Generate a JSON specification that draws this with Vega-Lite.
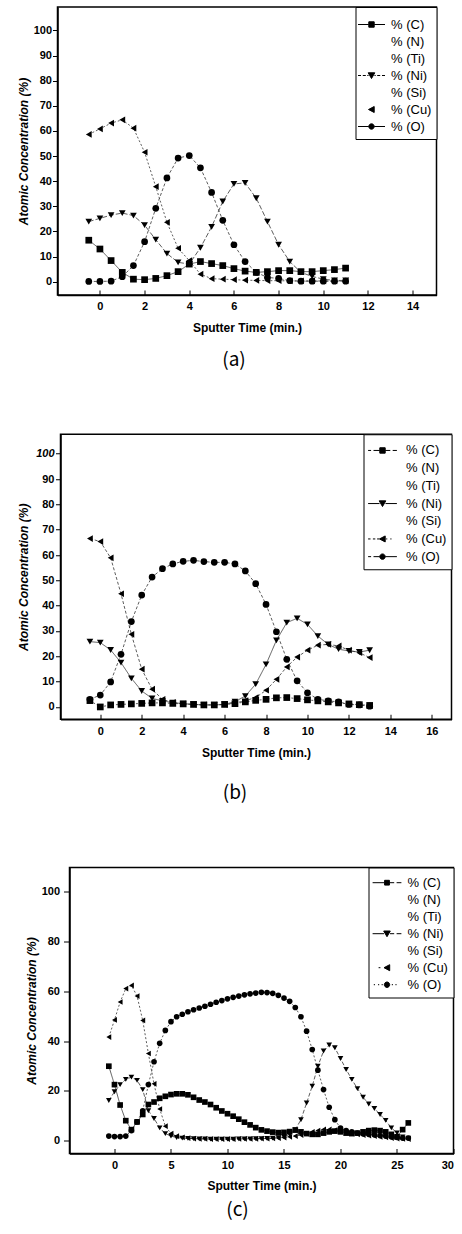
{
"$schema": "https://vega.github.io/schema/vega-lite/v6.json",
"padding": {"left": 15.5, "top": 5, "right": 0, "bottom": 0},
"config": {
  "font": "Liberation Sans",
  "view": {"stroke": "black", "strokeWidth": 1.5},
  "axis": {"domainColor": "black", "domainWidth": 1.5, "tickColor": "black", "tickWidth": 1, "labelColor": "black", "labelFont": "Liberation Sans", "labelFontSize": 11, "labelFontWeight": "bold", "titleColor": "black", "titleFont": "Liberation Sans", "titleFontSize": 12, "titleFontWeight": "bold", "grid": false},
  "axisY": {"titleFontStyle": "italic"},
  "legend": {"orient": "top-right", "offset": 0, "fillColor": "white", "strokeColor": "black", "padding": 5, "cornerRadius": 0, "symbolSize": 144, "labelFont": "Liberation Sans", "labelFontSize": 13, "labelColor": "black", "rowPadding": 3, "labelLimit": 200, "symbolStrokeWidth": 1, "titleFontSize": 1, "titleColor": "white"},
  "title": {"font": "Noto Sans CJK KR", "fontSize": 19, "fontWeight": "normal", "color": "black", "anchor": "middle"}
},
"datasets": {
"a": [
{"t":-0.5,"s":"C","v":16.5},{"t":0,"s":"C","v":13},{"t":0.5,"s":"C","v":8.4},{"t":1,"s":"C","v":3.7},{"t":1.5,"s":"C","v":1},{"t":2,"s":"C","v":0.8},{"t":2.5,"s":"C","v":1.3},{"t":3,"s":"C","v":2.4},{"t":3.5,"s":"C","v":4},{"t":4,"s":"C","v":7},{"t":4.5,"s":"C","v":8},{"t":5,"s":"C","v":7.2},{"t":5.5,"s":"C","v":6.4},{"t":6,"s":"C","v":5.2},{"t":6.5,"s":"C","v":4.2},{"t":7,"s":"C","v":3.7},{"t":7.5,"s":"C","v":4},{"t":8,"s":"C","v":4.4},{"t":8.5,"s":"C","v":4.4},{"t":9,"s":"C","v":4},{"t":9.5,"s":"C","v":4},{"t":10,"s":"C","v":4.4},{"t":10.5,"s":"C","v":4.8},{"t":11,"s":"C","v":5.4},
{"t":-0.5,"s":"Ni","v":23.9},{"t":0,"s":"Ni","v":25.2},{"t":0.5,"s":"Ni","v":26.5},{"t":1,"s":"Ni","v":27.3},{"t":1.5,"s":"Ni","v":26.3},{"t":2,"s":"Ni","v":22.5},{"t":2.5,"s":"Ni","v":16.7},{"t":3,"s":"Ni","v":11.2},{"t":3.5,"s":"Ni","v":7.7},{"t":4,"s":"Ni","v":7},{"t":4.5,"s":"Ni","v":13.5},{"t":5,"s":"Ni","v":21.8},{"t":5.5,"s":"Ni","v":31.9},{"t":6,"s":"Ni","v":38.9},{"t":6.5,"s":"Ni","v":39.3},{"t":7,"s":"Ni","v":33.2},{"t":7.5,"s":"Ni","v":23.9},{"t":8,"s":"Ni","v":14.7},{"t":8.5,"s":"Ni","v":8},{"t":9,"s":"Ni","v":3.7},{"t":9.5,"s":"Ni","v":2.1},{"t":10,"s":"Ni","v":1},{"t":10.5,"s":"Ni","v":0.5},{"t":11,"s":"Ni","v":0.5},
{"t":-0.5,"s":"Cu","v":58.6},{"t":0,"s":"Cu","v":60.8},{"t":0.5,"s":"Cu","v":63.1},{"t":1,"s":"Cu","v":64.4},{"t":1.5,"s":"Cu","v":61.1},{"t":2,"s":"Cu","v":51.5},{"t":2.5,"s":"Cu","v":37.8},{"t":3,"s":"Cu","v":23.6},{"t":3.5,"s":"Cu","v":13.3},{"t":4,"s":"Cu","v":8.4},{"t":4.5,"s":"Cu","v":3},{"t":5,"s":"Cu","v":1.2},{"t":5.5,"s":"Cu","v":1},{"t":6,"s":"Cu","v":0.8},{"t":6.5,"s":"Cu","v":0.6},{"t":7,"s":"Cu","v":0.5},{"t":7.5,"s":"Cu","v":0.4},{"t":8,"s":"Cu","v":0.4},{"t":8.5,"s":"Cu","v":0.3},{"t":9,"s":"Cu","v":0.3},{"t":9.5,"s":"Cu","v":0.3},{"t":10,"s":"Cu","v":0.3},{"t":10.5,"s":"Cu","v":0.3},{"t":11,"s":"Cu","v":0.3},
{"t":-0.5,"s":"O","v":0.1},{"t":0,"s":"O","v":0.1},{"t":0.5,"s":"O","v":0.2},{"t":1,"s":"O","v":2},{"t":1.5,"s":"O","v":6.4},{"t":2,"s":"O","v":15.9},{"t":2.5,"s":"O","v":29.2},{"t":3,"s":"O","v":41.3},{"t":3.5,"s":"O","v":49.2},{"t":4,"s":"O","v":50.2},{"t":4.5,"s":"O","v":45.3},{"t":5,"s":"O","v":35.5},{"t":5.5,"s":"O","v":24.4},{"t":6,"s":"O","v":14.7},{"t":6.5,"s":"O","v":8},{"t":7,"s":"O","v":3.7},{"t":7.5,"s":"O","v":1.7},{"t":8,"s":"O","v":1.3},{"t":8.5,"s":"O","v":0.4},{"t":9,"s":"O","v":0.2},{"t":9.5,"s":"O","v":0.2},{"t":10,"s":"O","v":0.2},{"t":10.5,"s":"O","v":0.2},{"t":11,"s":"O","v":0.2}
],
"b": [
{"t":-0.5,"s":"C","v":2.5},{"t":0,"s":"C","v":0},{"t":0.5,"s":"C","v":0.8},{"t":1,"s":"C","v":1},{"t":1.5,"s":"C","v":1.2},{"t":2,"s":"C","v":1.4},{"t":2.5,"s":"C","v":1.6},{"t":3,"s":"C","v":1.6},{"t":3.5,"s":"C","v":1.4},{"t":4,"s":"C","v":1.2},{"t":4.5,"s":"C","v":1},{"t":5,"s":"C","v":0.8},{"t":5.5,"s":"C","v":0.8},{"t":6,"s":"C","v":1},{"t":6.5,"s":"C","v":1.3},{"t":7,"s":"C","v":2},{"t":7.5,"s":"C","v":2.6},{"t":8,"s":"C","v":3},{"t":8.5,"s":"C","v":3.6},{"t":9,"s":"C","v":3.7},{"t":9.5,"s":"C","v":3.3},{"t":10,"s":"C","v":2.8},{"t":10.5,"s":"C","v":2.4},{"t":11,"s":"C","v":2},{"t":11.5,"s":"C","v":1.6},{"t":12,"s":"C","v":1.2},{"t":12.5,"s":"C","v":0.9},{"t":13,"s":"C","v":0.6},
{"t":-0.5,"s":"Ni","v":25.8},{"t":0,"s":"Ni","v":25.4},{"t":0.5,"s":"Ni","v":22.5},{"t":1,"s":"Ni","v":17.5},{"t":1.5,"s":"Ni","v":11.3},{"t":2,"s":"Ni","v":6.3},{"t":2.5,"s":"Ni","v":3.4},{"t":3,"s":"Ni","v":2.4},{"t":3.5,"s":"Ni","v":1.7},{"t":4,"s":"Ni","v":1.3},{"t":4.5,"s":"Ni","v":1},{"t":5,"s":"Ni","v":0.8},{"t":5.5,"s":"Ni","v":0.8},{"t":6,"s":"Ni","v":1},{"t":6.5,"s":"Ni","v":2.1},{"t":7,"s":"Ni","v":4.3},{"t":7.5,"s":"Ni","v":9},{"t":8,"s":"Ni","v":16.8},{"t":8.5,"s":"Ni","v":26.3},{"t":9,"s":"Ni","v":33.3},{"t":9.5,"s":"Ni","v":35},{"t":10,"s":"Ni","v":32.6},{"t":10.5,"s":"Ni","v":28},{"t":11,"s":"Ni","v":24.7},{"t":11.5,"s":"Ni","v":22.8},{"t":12,"s":"Ni","v":22.1},{"t":12.5,"s":"Ni","v":21.7},{"t":13,"s":"Ni","v":22.4},
{"t":-0.5,"s":"Cu","v":66.5},{"t":0,"s":"Cu","v":65.3},{"t":0.5,"s":"Cu","v":58.9},{"t":1,"s":"Cu","v":44.7},{"t":1.5,"s":"Cu","v":28.7},{"t":2,"s":"Cu","v":14.9},{"t":2.5,"s":"Cu","v":7},{"t":3,"s":"Cu","v":3},{"t":3.5,"s":"Cu","v":1.8},{"t":4,"s":"Cu","v":1.2},{"t":4.5,"s":"Cu","v":1},{"t":5,"s":"Cu","v":0.8},{"t":5.5,"s":"Cu","v":0.8},{"t":6,"s":"Cu","v":1},{"t":6.5,"s":"Cu","v":1.5},{"t":7,"s":"Cu","v":2.5},{"t":7.5,"s":"Cu","v":3.7},{"t":8,"s":"Cu","v":6.6},{"t":8.5,"s":"Cu","v":10.9},{"t":9,"s":"Cu","v":15.8},{"t":9.5,"s":"Cu","v":19.7},{"t":10,"s":"Cu","v":22.4},{"t":10.5,"s":"Cu","v":24.4},{"t":11,"s":"Cu","v":24.7},{"t":11.5,"s":"Cu","v":24.1},{"t":12,"s":"Cu","v":22.4},{"t":12.5,"s":"Cu","v":21.4},{"t":13,"s":"Cu","v":19.5},
{"t":-0.5,"s":"O","v":3},{"t":0,"s":"O","v":4.7},{"t":0.5,"s":"O","v":9.9},{"t":1,"s":"O","v":20.8},{"t":1.5,"s":"O","v":33.7},{"t":2,"s":"O","v":44.2},{"t":2.5,"s":"O","v":51.3},{"t":3,"s":"O","v":54.6},{"t":3.5,"s":"O","v":56.5},{"t":4,"s":"O","v":57.5},{"t":4.5,"s":"O","v":57.9},{"t":5,"s":"O","v":57.4},{"t":5.5,"s":"O","v":57.1},{"t":6,"s":"O","v":57.1},{"t":6.5,"s":"O","v":56.5},{"t":7,"s":"O","v":53.7},{"t":7.5,"s":"O","v":48.7},{"t":8,"s":"O","v":40.5},{"t":8.5,"s":"O","v":29.7},{"t":9,"s":"O","v":18.8},{"t":9.5,"s":"O","v":10.3},{"t":10,"s":"O","v":5.6},{"t":10.5,"s":"O","v":3},{"t":11,"s":"O","v":2.4},{"t":11.5,"s":"O","v":2},{"t":12,"s":"O","v":1},{"t":12.5,"s":"O","v":0.8},{"t":13,"s":"O","v":0.3}
],
"c": [
{"t":-0.5,"s":"C","v":29.9},{"t":0,"s":"C","v":22.5},{"t":0.5,"s":"C","v":14.3},{"t":1,"s":"C","v":8},{"t":1.5,"s":"C","v":4.4},{"t":2,"s":"C","v":7.5},{"t":2.5,"s":"C","v":10.5},{"t":3,"s":"C","v":14.5},{"t":3.5,"s":"C","v":15.5},{"t":4,"s":"C","v":17},{"t":4.5,"s":"C","v":17.8},{"t":5,"s":"C","v":18.5},{"t":5.5,"s":"C","v":18.8},{"t":6,"s":"C","v":18.8},{"t":6.5,"s":"C","v":18.4},{"t":7,"s":"C","v":17.4},{"t":7.5,"s":"C","v":16.3},{"t":8,"s":"C","v":15.5},{"t":8.5,"s":"C","v":14.5},{"t":9,"s":"C","v":13.2},{"t":9.5,"s":"C","v":11.9},{"t":10,"s":"C","v":10.8},{"t":10.5,"s":"C","v":9.8},{"t":11,"s":"C","v":8.6},{"t":11.5,"s":"C","v":7.4},{"t":12,"s":"C","v":6.3},{"t":12.5,"s":"C","v":5.2},{"t":13,"s":"C","v":4.3},{"t":13.5,"s":"C","v":3.8},{"t":14,"s":"C","v":3.4},{"t":14.5,"s":"C","v":3.2},{"t":15,"s":"C","v":3.3},{"t":15.5,"s":"C","v":3.6},{"t":16,"s":"C","v":4.2},{"t":16.5,"s":"C","v":3.5},{"t":17,"s":"C","v":2.8},{"t":17.5,"s":"C","v":2.5},{"t":18,"s":"C","v":2.5},{"t":18.5,"s":"C","v":3},{"t":19,"s":"C","v":3.5},{"t":19.5,"s":"C","v":3.8},{"t":20,"s":"C","v":3.5},{"t":20.5,"s":"C","v":3},{"t":21,"s":"C","v":2.8},{"t":21.5,"s":"C","v":3},{"t":22,"s":"C","v":3.5},{"t":22.5,"s":"C","v":4},{"t":23,"s":"C","v":4.2},{"t":23.5,"s":"C","v":4},{"t":24,"s":"C","v":3.5},{"t":24.5,"s":"C","v":2.5},{"t":25,"s":"C","v":1.5},{"t":25.5,"s":"C","v":4.4},{"t":26,"s":"C","v":7.1},
{"t":-0.5,"s":"Ni","v":16.1},{"t":0,"s":"Ni","v":19.6},{"t":0.5,"s":"Ni","v":22.5},{"t":1,"s":"Ni","v":24.6},{"t":1.5,"s":"Ni","v":25.5},{"t":2,"s":"Ni","v":24.2},{"t":2.5,"s":"Ni","v":20.5},{"t":3,"s":"Ni","v":12},{"t":3.5,"s":"Ni","v":8.9},{"t":4,"s":"Ni","v":5.1},{"t":4.5,"s":"Ni","v":2.8},{"t":5,"s":"Ni","v":1.8},{"t":5.5,"s":"Ni","v":1.2},{"t":6,"s":"Ni","v":1},{"t":6.5,"s":"Ni","v":0.9},{"t":7,"s":"Ni","v":0.8},{"t":7.5,"s":"Ni","v":0.7},{"t":8,"s":"Ni","v":0.7},{"t":8.5,"s":"Ni","v":0.6},{"t":9,"s":"Ni","v":0.6},{"t":9.5,"s":"Ni","v":0.6},{"t":10,"s":"Ni","v":0.6},{"t":10.5,"s":"Ni","v":0.6},{"t":11,"s":"Ni","v":0.7},{"t":11.5,"s":"Ni","v":0.7},{"t":12,"s":"Ni","v":0.7},{"t":12.5,"s":"Ni","v":0.8},{"t":13,"s":"Ni","v":0.8},{"t":13.5,"s":"Ni","v":0.9},{"t":14,"s":"Ni","v":1},{"t":14.5,"s":"Ni","v":1.2},{"t":15,"s":"Ni","v":1.5},{"t":15.5,"s":"Ni","v":2.5},{"t":16,"s":"Ni","v":4.4},{"t":16.5,"s":"Ni","v":8.4},{"t":17,"s":"Ni","v":15.1},{"t":17.5,"s":"Ni","v":21.9},{"t":18,"s":"Ni","v":29.9},{"t":18.5,"s":"Ni","v":36},{"t":19,"s":"Ni","v":38.4},{"t":19.5,"s":"Ni","v":37.3},{"t":20,"s":"Ni","v":33},{"t":20.5,"s":"Ni","v":28.6},{"t":21,"s":"Ni","v":24.6},{"t":21.5,"s":"Ni","v":20.9},{"t":22,"s":"Ni","v":17.4},{"t":22.5,"s":"Ni","v":14.7},{"t":23,"s":"Ni","v":12.9},{"t":23.5,"s":"Ni","v":10.5},{"t":24,"s":"Ni","v":8.1},{"t":24.5,"s":"Ni","v":5.1},{"t":25,"s":"Ni","v":3.1},{"t":25.5,"s":"Ni","v":1.5},{"t":26,"s":"Ni","v":1},
{"t":-0.5,"s":"Cu","v":41.6},{"t":0,"s":"Cu","v":48.5},{"t":0.5,"s":"Cu","v":55.7},{"t":1,"s":"Cu","v":61.1},{"t":1.5,"s":"Cu","v":62.4},{"t":2,"s":"Cu","v":58.1},{"t":2.5,"s":"Cu","v":48.3},{"t":3,"s":"Cu","v":35},{"t":3.5,"s":"Cu","v":22.8},{"t":4,"s":"Cu","v":12.7},{"t":4.5,"s":"Cu","v":5.8},{"t":5,"s":"Cu","v":2.8},{"t":5.5,"s":"Cu","v":1.8},{"t":6,"s":"Cu","v":1.3},{"t":6.5,"s":"Cu","v":1},{"t":7,"s":"Cu","v":0.8},{"t":7.5,"s":"Cu","v":0.7},{"t":8,"s":"Cu","v":0.7},{"t":8.5,"s":"Cu","v":0.6},{"t":9,"s":"Cu","v":0.6},{"t":9.5,"s":"Cu","v":0.6},{"t":10,"s":"Cu","v":0.6},{"t":10.5,"s":"Cu","v":0.6},{"t":11,"s":"Cu","v":0.7},{"t":11.5,"s":"Cu","v":0.7},{"t":12,"s":"Cu","v":0.7},{"t":12.5,"s":"Cu","v":0.7},{"t":13,"s":"Cu","v":0.8},{"t":13.5,"s":"Cu","v":0.8},{"t":14,"s":"Cu","v":0.9},{"t":14.5,"s":"Cu","v":1},{"t":15,"s":"Cu","v":1.2},{"t":15.5,"s":"Cu","v":1.5},{"t":16,"s":"Cu","v":1.8},{"t":16.5,"s":"Cu","v":2.2},{"t":17,"s":"Cu","v":2.8},{"t":17.5,"s":"Cu","v":3.5},{"t":18,"s":"Cu","v":4},{"t":18.5,"s":"Cu","v":4.5},{"t":19,"s":"Cu","v":4.5},{"t":19.5,"s":"Cu","v":4.2},{"t":20,"s":"Cu","v":3.8},{"t":20.5,"s":"Cu","v":3.2},{"t":21,"s":"Cu","v":2.8},{"t":21.5,"s":"Cu","v":2.5},{"t":22,"s":"Cu","v":2.2},{"t":22.5,"s":"Cu","v":2},{"t":23,"s":"Cu","v":1.8},{"t":23.5,"s":"Cu","v":1.5},{"t":24,"s":"Cu","v":1.3},{"t":24.5,"s":"Cu","v":1},{"t":25,"s":"Cu","v":0.8},{"t":25.5,"s":"Cu","v":0.7},{"t":26,"s":"Cu","v":0.6},
{"t":-0.5,"s":"O","v":1.8},{"t":0,"s":"O","v":1.6},{"t":0.5,"s":"O","v":1.6},{"t":1,"s":"O","v":1.8},{"t":1.5,"s":"O","v":4},{"t":2,"s":"O","v":7.5},{"t":2.5,"s":"O","v":12},{"t":3,"s":"O","v":22.5},{"t":3.5,"s":"O","v":31.7},{"t":4,"s":"O","v":39.1},{"t":4.5,"s":"O","v":44.3},{"t":5,"s":"O","v":47.8},{"t":5.5,"s":"O","v":49.8},{"t":6,"s":"O","v":50.8},{"t":6.5,"s":"O","v":51.8},{"t":7,"s":"O","v":52.6},{"t":7.5,"s":"O","v":53.3},{"t":8,"s":"O","v":54},{"t":8.5,"s":"O","v":54.8},{"t":9,"s":"O","v":55.6},{"t":9.5,"s":"O","v":56.3},{"t":10,"s":"O","v":57},{"t":10.5,"s":"O","v":57.6},{"t":11,"s":"O","v":58.1},{"t":11.5,"s":"O","v":58.6},{"t":12,"s":"O","v":59},{"t":12.5,"s":"O","v":59.3},{"t":13,"s":"O","v":59.6},{"t":13.5,"s":"O","v":59.5},{"t":14,"s":"O","v":59.2},{"t":14.5,"s":"O","v":58.4},{"t":15,"s":"O","v":57.3},{"t":15.5,"s":"O","v":56},{"t":16,"s":"O","v":53.5},{"t":16.5,"s":"O","v":49.8},{"t":17,"s":"O","v":44},{"t":17.5,"s":"O","v":36.6},{"t":18,"s":"O","v":28.3},{"t":18.5,"s":"O","v":20.5},{"t":19,"s":"O","v":13.4},{"t":19.5,"s":"O","v":8.4},{"t":20,"s":"O","v":5},{"t":20.5,"s":"O","v":4},{"t":21,"s":"O","v":3.5},{"t":21.5,"s":"O","v":3},{"t":22,"s":"O","v":2.7},{"t":22.5,"s":"O","v":2.5},{"t":23,"s":"O","v":2.3},{"t":23.5,"s":"O","v":2},{"t":24,"s":"O","v":1.8},{"t":24.5,"s":"O","v":1.5},{"t":25,"s":"O","v":1.3},{"t":25.5,"s":"O","v":1},{"t":26,"s":"O","v":1}
]
},
"columns": 1,
"spacing": 61.25,
"resolve": {"scale": {"shape": "independent", "strokeDash": "independent"}, "legend": {"shape": "independent", "strokeDash": "independent"}},
"concat": [
{
  "data": {"name": "a"},
  "width": 379, "height": 288,
  "title": {"text": "(a)", "orient": "bottom", "offset": 17.5, "dx": -13},
  "encoding": {
    "x": {"field": "t", "type": "quantitative", "scale": {"domain": [-1.9, 15.07], "nice": false, "zero": false}, "axis": {"values": [0,2,4,6,8,10,12,14], "title": "Sputter Time (min.)", "tickSize": -5, "labelPadding": 10, "titlePadding": 11}},
    "y": {"field": "v", "type": "quantitative", "scale": {"domain": [-5.3, 109.3], "nice": false, "zero": false}, "axis": {"values": [0,10,20,30,40,50,60,70,80,90,100], "title": "Atomic Concentration (%)", "tickSize": 5, "labelPadding": 1, "titlePadding": 3}}
  },
  "resolve": {"scale": {"shape": "independent"}, "legend": {"shape": "independent"}},
  "layer": [
    {"mark": {"type": "line", "strokeWidth": 0.8, "color": "#333"}, "encoding": {"detail": {"field": "s"}, "strokeDash": {"field": "s", "scale": {"domain": ["C","Ni","Cu","O"], "range": [[1,0],[5,2],[2,2],[3,2]]}, "legend": null}}},
    {"mark": {"type": "point", "filled": true, "color": "black", "opacity": 1, "size": 45},
     "encoding": {"shape": {"field": "s", "scale": {"domain": ["C","Ni","Cu","O"], "range": ["square","triangle-down","triangle-left","circle"]}, "legend": null}}},
    {"transform": [{"filter": "datum.t > 1000"}],
     "mark": {"type": "point", "filled": false, "fill": "black", "stroke": "black", "strokeWidth": 1, "opacity": 1},
     "encoding": {"shape": {"field": "s", "scale": {"domain": ["C","N","Ti","Ni","Si","Cu","O"], "range": [
        "M-2.25,0H-0.45M0.45,0H2.25M-0.45,-0.45H0.45V0.45H-0.45Z", "M0,0", "M0,0",
        "M-2.25,0H-1.75M-1.45,0H-0.95M-0.7,0H-0.5M0.5,0H0.7M0.95,0H1.45M1.75,0H2.25M-0.55,-0.45H0.55L0,0.5Z", "M0,0",
        "M0.45,-0.5V0.5L-0.5,0Z",
        "M-2.25,0H-0.45M0.45,0H2.25M-0.45,0A0.45,0.45,0,1,0,0.45,0A0.45,0.45,0,1,0,-0.45,0Z"]},
       "legend": {"title": " ", "titlePadding": 5, "orient": "top-right", "offset": 0, "labelExpr": "'% (' + datum.label + ')'", "symbolOffset": 4.5, "labelOffset": 13, "rowPadding": 3}}}}
  ]
},
{
  "spacing": 0,
  "bounds": "flush",
  "resolve": {"scale": {"shape": "independent", "strokeDash": "independent"}, "legend": {"shape": "independent", "strokeDash": "independent"}},
  "hconcat": [
    {"width": 2.7, "height": 10, "data": {"values": []}, "mark": "point", "view": {"stroke": null}},
    {
      "data": {"name": "b"},
      "width": 391, "height": 285,
      "title": {"text": "(b)", "orient": "bottom", "offset": 25.5, "dx": -21},
      "encoding": {
        "x": {"field": "t", "type": "quantitative", "scale": {"domain": [-1.92, 16.95], "nice": false, "zero": false}, "axis": {"values": [0,2,4,6,8,10,12,14,16], "title": "Sputter Time (min.)", "tickSize": -5, "labelPadding": 11, "titlePadding": 11}},
        "y": {"field": "v", "type": "quantitative", "scale": {"domain": [-4.86, 107.7], "nice": false, "zero": false}, "axis": {"values": [0,10,20,30,40,50,60,70,80,90,100], "title": "Atomic Concentration (%)", "tickSize": 5, "labelPadding": 1.5, "titlePadding": 5, "labelFontStyle": {"condition": {"test": "datum.value == 100", "value": "italic"}, "value": "normal"}}}
      },
      "resolve": {"scale": {"shape": "independent"}, "legend": {"shape": "independent"}},
      "layer": [
        {"mark": {"type": "line", "strokeWidth": 0.8, "color": "#333"}, "encoding": {"detail": {"field": "s"}, "strokeDash": {"field": "s", "scale": {"domain": ["C","Ni","Cu","O"], "range": [[2,2],[1,0],[3,2],[3,2]]}, "legend": null}}},
        {"mark": {"type": "point", "filled": true, "color": "black", "opacity": 1, "size": 45},
         "encoding": {"shape": {"field": "s", "scale": {"domain": ["C","Ni","Cu","O"], "range": ["square","triangle-down","triangle-left","circle"]}, "legend": null}}},
        {"transform": [{"filter": "datum.t > 1000"}],
         "mark": {"type": "point", "filled": false, "fill": "black", "stroke": "black", "strokeWidth": 1, "opacity": 1},
         "encoding": {"shape": {"field": "s", "scale": {"domain": ["C","N","Ti","Ni","Si","Cu","O"], "range": [
            "M-2.4,0H-1.9M-1.5,0H-0.45M0.45,0H1.3M1.7,0H2.4M-0.45,-0.45H0.45V0.45H-0.45Z", "M0,0", "M0,0",
            "M-2.4,0H-0.5M0.5,0H2.4M-0.55,-0.45H0.55L0,0.5Z", "M0,0",
            "M-2.4,0H-2M-1.6,0H-1.2M-0.9,0H-0.55M0.6,0H0.8M1.3,0H1.5M0.45,-0.5V0.5L-0.5,0Z",
            "M-2.4,0H-1.9M-1.5,0H-0.45M0.45,0H2.4M-0.45,0A0.45,0.45,0,1,0,0.45,0A0.45,0.45,0,1,0,-0.45,0Z"]},
           "legend": {"title": " ", "titlePadding": 3.7, "orient": "top-right", "offset": 0, "labelExpr": "'% (' + datum.label + ')'", "symbolOffset": 7.5, "labelOffset": 17, "rowPadding": 3.7}}}}
      ]
    }
  ]
},
{
  "spacing": 0,
  "bounds": "flush",
  "resolve": {"scale": {"shape": "independent", "strokeDash": "independent"}, "legend": {"shape": "independent", "strokeDash": "independent"}},
  "hconcat": [
    {"width": 11.7, "height": 10, "data": {"values": []}, "mark": "point", "view": {"stroke": null}},
    {
      "data": {"name": "c"},
      "width": 384, "height": 286,
      "title": {"text": "(c)", "orient": "bottom", "offset": 9.5, "dx": -24},
      "encoding": {
        "x": {"field": "t", "type": "quantitative", "scale": {"domain": [-3.98, 30], "nice": false, "zero": false}, "axis": {"values": [0,5,10,15,20,25,30], "title": "Sputter Time (min.)", "tickSize": -5, "labelPadding": 11, "titlePadding": 10}},
        "y": {"field": "v", "type": "quantitative", "scale": {"domain": [-5.2, 109.8], "nice": false, "zero": false}, "axis": {"values": [0,20,40,60,80,100], "title": "Atomic Concentration (%)", "tickSize": 6, "labelPadding": 4, "titlePadding": 3}}
      },
      "resolve": {"scale": {"shape": "independent"}, "legend": {"shape": "independent"}},
      "layer": [
        {"mark": {"type": "line", "strokeWidth": 0.8, "color": "#333"}, "encoding": {"detail": {"field": "s"}, "strokeDash": {"field": "s", "scale": {"domain": ["C","Ni","Cu","O"], "range": [[1,0],[4,2],[2,2],[2,2]]}, "legend": null}}},
        {"mark": {"type": "point", "filled": true, "color": "black", "opacity": 1, "size": 32},
         "encoding": {"shape": {"field": "s", "scale": {"domain": ["C","Ni","Cu","O"], "range": ["square","triangle-down","triangle-left","circle"]}, "legend": null}}},
        {"transform": [{"filter": "datum.t > 1000"}],
         "mark": {"type": "point", "filled": false, "fill": "black", "stroke": "black", "strokeWidth": 1, "opacity": 1},
         "encoding": {"shape": {"field": "s", "scale": {"domain": ["C","N","Ti","Ni","Si","Cu","O"], "range": [
            "M-2.4,0H-0.45M0.45,0H1.2M1.6,0H2.4M-0.4,-0.4H0.4V0.4H-0.4Z", "M0,0", "M0,0",
            "M-2.4,0H-0.5M0.5,0H1.2M1.6,0H2.4M-0.55,-0.45H0.55L0,0.5Z", "M0,0",
            "M-1.4,0H-1.1M0.45,-0.5V0.5L-0.5,0Z",
            "M-2.2,0H-2M-1.5,0H-1.3M-0.9,0H-0.7M0.8,0H1M1.4,0H1.6M-0.45,0A0.45,0.45,0,1,0,0.45,0A0.45,0.45,0,1,0,-0.45,0Z"]},
           "legend": {"title": " ", "titlePadding": 2.7, "orient": "top-right", "offset": 0, "labelExpr": "'% (' + datum.label + ')'", "symbolOffset": 7, "labelOffset": 14, "rowPadding": 3}}}}
      ]
    }
  ]
}
]
}
